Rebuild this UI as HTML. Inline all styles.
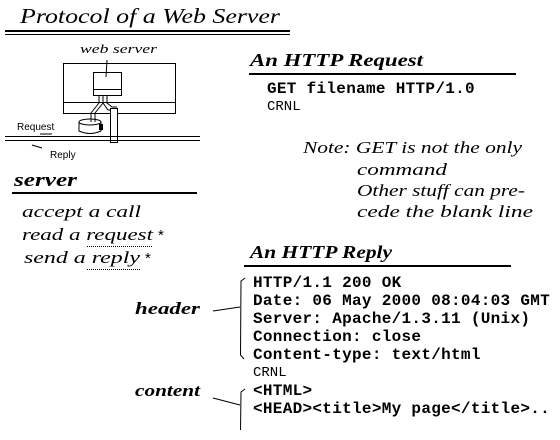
<!DOCTYPE html>
<html><head><style>
html,body{margin:0;padding:0;background:#fff;width:560px;height:440px;overflow:hidden}
svg{display:block}
.h{font-family:"Liberation Serif",serif;font-style:italic}
.m{font-family:"Liberation Mono",monospace;font-weight:bold;font-size:16px;letter-spacing:0.3px}
.c{font-family:"Liberation Mono",monospace;font-size:14px}
</style></head><body>
<svg width="560" height="440" viewBox="0 0 560 440" xmlns="http://www.w3.org/2000/svg">
<text x="20" y="23" class="h" font-size="21" textLength="260" lengthAdjust="spacingAndGlyphs">Protocol  of a Web Server</text>
<rect x="5" y="30" width="285" height="2" fill="#000"/>
<rect x="5" y="34" width="285" height="1" fill="#000"/>

<!-- web server diagram -->
<g stroke="#000" fill="none" stroke-width="1">
<rect x="63.5" y="63.5" width="112" height="50"/>
<line x1="63" y1="102.5" x2="175" y2="102.5"/>
<rect x="93.5" y="72.5" width="28" height="23" fill="#fff"/>
<line x1="93" y1="89.5" x2="121" y2="89.5"/>
<line x1="107" y1="60" x2="106" y2="77"/>
<path d="M99 95 L99 103 L91 113 L91 122 M103 95 L103 103 L95 113 L95 122"/>
<path d="M103 95 L103 103 L108 110 L117 110 M107 95 L107 103 L112 107 L117 107"/>
<rect x="110.5" y="108.5" width="7" height="34" fill="#fff"/>
<ellipse cx="90" cy="122" rx="11" ry="3"/>
<path d="M79 122 L79 131 Q90 136 101 131 L101 122"/>
<rect x="99" y="124" width="4" height="6" fill="#000" stroke="none"/>
</g>
<rect x="5" y="136" width="195" height="1" fill="#000"/>
<rect x="5" y="140" width="195" height="1" fill="#000"/>
<text x="17" y="130" font-family="Liberation Sans,sans-serif" font-size="10">Request</text>
<text x="50" y="158" font-family="Liberation Sans,sans-serif" font-size="10">Reply</text>
<path d="M40 134 L52 134 M32 145 L42 148" stroke="#000" stroke-width="1"/>
<text x="80" y="53" class="h" font-size="13" textLength="77" lengthAdjust="spacingAndGlyphs">web server</text>

<!-- server -->
<text x="14" y="186" class="h" font-size="19" font-weight="bold" textLength="63" lengthAdjust="spacingAndGlyphs">server</text>
<rect x="12" y="192" width="185" height="2" fill="#000"/>
<text x="22" y="217" class="h" font-size="17" textLength="119" lengthAdjust="spacingAndGlyphs">accept a call</text>
<text x="22" y="240" class="h" font-size="17" textLength="131" lengthAdjust="spacingAndGlyphs">read a request</text>
<text x="24" y="263" class="h" font-size="17" textLength="116" lengthAdjust="spacingAndGlyphs">send a reply</text>
<text x="158" y="240" font-size="15" font-family="Liberation Sans,sans-serif">*</text>
<text x="145" y="263" font-size="15" font-family="Liberation Sans,sans-serif">*</text>
<line x1="87" y1="246.5" x2="153" y2="246.5" stroke="#000" stroke-dasharray="1 1"/>
<line x1="87" y1="269.5" x2="140" y2="269.5" stroke="#000" stroke-dasharray="1 1"/>

<!-- request -->
<text x="250" y="66" class="h" font-size="18" font-weight="bold" textLength="173" lengthAdjust="spacingAndGlyphs">An HTTP Request</text>
<rect x="249" y="73" width="267" height="2" fill="#000"/>
<text x="267" y="93" class="m">GET filename HTTP/1.0</text>
<text x="267" y="110" class="c">CRNL</text>

<!-- note -->
<g class="h" font-size="17">
<text x="303" y="153" textLength="219" lengthAdjust="spacingAndGlyphs">Note:  GET is not the only</text>
<text x="357" y="175" textLength="90" lengthAdjust="spacingAndGlyphs">command</text>
<text x="357" y="196" textLength="168" lengthAdjust="spacingAndGlyphs">Other stuff can pre-</text>
<text x="357" y="217" textLength="176" lengthAdjust="spacingAndGlyphs">cede the blank line</text>
</g>

<!-- reply -->
<text x="250" y="258" class="h" font-size="18" font-weight="bold" textLength="142" lengthAdjust="spacingAndGlyphs">An HTTP Reply</text>
<rect x="244" y="265" width="267" height="2" fill="#000"/>
<g class="m">
<text x="253" y="287">HTTP/1.1 200 OK</text>
<text x="253" y="305">Date: 06 May 2000 08:04:03 GMT</text>
<text x="253" y="323">Server: Apache/1.3.11 (Unix)</text>
<text x="253" y="341">Connection: close</text>
<text x="253" y="359">Content-type: text/html</text>
</g>
<text x="253" y="376" class="c">CRNL</text>
<g class="m" font-size="15">
<text x="253" y="395">&lt;HTML&gt;</text>
<text x="253" y="413">&lt;HEAD&gt;&lt;title&gt;My page&lt;/title&gt;..</text>
</g>
<g stroke="#000" fill="none">
<path d="M245 278 L241 281 L240.5 355 L244 359"/>
<line x1="213" y1="311" x2="240" y2="307"/>
<path d="M245 389 L241 392 L240.5 430"/>
<line x1="213" y1="398" x2="240" y2="405"/>
</g>
<text x="135" y="314" class="h" font-size="17" font-weight="bold" textLength="65" lengthAdjust="spacingAndGlyphs">header</text>
<text x="135" y="396" class="h" font-size="17" font-weight="bold" textLength="65" lengthAdjust="spacingAndGlyphs">content</text>
</svg>
</body></html>
